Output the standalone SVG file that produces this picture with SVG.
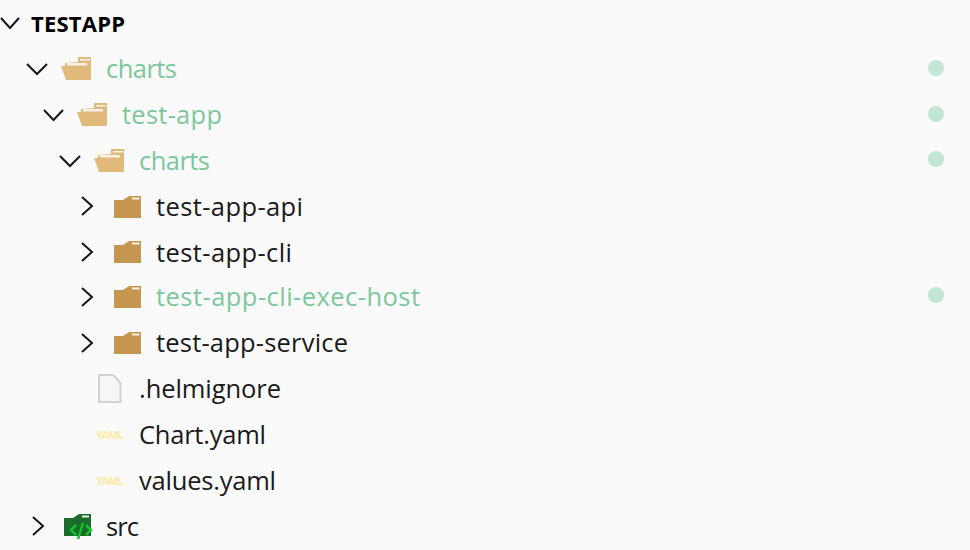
<svg xmlns="http://www.w3.org/2000/svg" width="970" height="550" viewBox="0 0 970 550">
<defs>
<style>
text{font-family:"Open Sans","Noto Sans","Liberation Sans",sans-serif;font-size:25.500px;fill:#1a1a1a}
.g{fill:#7cc79b}
.root{font-weight:700;font-size:22px;fill:#000}
.ch{fill:none;stroke:#15151c;stroke-width:2}
.dot{fill:#c2e6d4}
.y{font-size:11px;font-weight:700;fill:#fcea9c;font-family:"Liberation Sans",sans-serif}
</style>
<g id="open"><path d="M4 6L17 5V0H30V23H5Z" fill="#e1b97b"/><path d="M6 6H26V8.500H6ZM19 2H29V3.500H19Z" fill="#f7f1e6"/><path d="M0 9H26L30 23H5Z" fill="#e1b97b"/></g>
<g id="closed"><path d="M0 4H9L15 0H27V22H0Z" fill="#c49650"/><rect x="18" y="1.500" width="7.500" height="2" fill="#f5efe3"/></g>
</defs>
<rect width="970" height="550" fill="#fafafa"/>
<g id="connectors"></g>
<g id="testapp"><path class="ch" d="M1 18L10 28L19 18"/><text class="root" x="31" y="32" textLength="94">TESTAPP</text></g>
<g id="charts"><path class="ch" d="M27 64L37 74L47 64"/><use href="#open" x="61" y="57"/><text class="g" x="106" y="78" textLength="71">charts</text><circle class="dot" cx="936" cy="68" r="8"/></g>
<g id="test-app"><path class="ch" d="M44 110L53.500 120L63 110"/><use href="#open" x="77" y="103"/><text class="g" x="122" y="124" textLength="100">test-app</text><circle class="dot" cx="936" cy="114" r="8"/></g>
<g id="charts-2"><path class="ch" d="M60 156L70 166L80 156"/><use href="#open" x="94" y="149"/><text class="g" x="139" y="170" textLength="71">charts</text><circle class="dot" cx="936" cy="159" r="8"/></g>
<g id="test-app-api"><path class="ch" d="M82 197L92 206L82 215"/><use href="#closed" x="114" y="196"/><text x="156" y="216" textLength="147">test-app-api</text></g>
<g id="test-app-cli"><path class="ch" d="M82 243L92 252L82 261"/><use href="#closed" x="114" y="241"/><text x="156" y="262" textLength="136">test-app-cli</text></g>
<g id="test-app-cli-exec-host"><path class="ch" d="M82 288L92 297L82 306"/><use href="#closed" x="114" y="286"/><text class="g" x="156" y="306" textLength="264">test-app-cli-exec-host</text><circle class="dot" cx="936" cy="295" r="8"/></g>
<g id="test-app-service"><path class="ch" d="M82 334L92 343L82 352"/><use href="#closed" x="114" y="332"/><text x="156" y="352" textLength="192">test-app-service</text></g>
<g id="helmignore"><path d="M99 375H113L120.500 383V402H99Z" fill="#f6f6f6" stroke="#d2d2d2" stroke-width="2"/><text x="139" y="398" textLength="142">.helmignore</text></g>
<g id="chart-yaml"><text class="y" x="96" y="439" textLength="28">YAML</text><text x="139" y="444" textLength="127">Chart.yaml</text></g>
<g id="values-yaml"><text class="y" x="96" y="485" textLength="28">YAML</text><text x="139" y="490" textLength="137">values.yaml</text></g>
<g id="src"><path class="ch" d="M33 517L43 526L33 535"/><path d="M64 518H73L79 514H91V536H64Z" fill="#1a6b2c"/><rect x="82" y="515.500" width="7" height="2" fill="#e8f2ea"/><path d="M76 525L71 530L76 535M86 525L91 530L86 535M83 523L78 539" fill="none" stroke="#16c22a" stroke-width="2.500"/><text x="106" y="536" textLength="33">src</text></g>
</svg>
